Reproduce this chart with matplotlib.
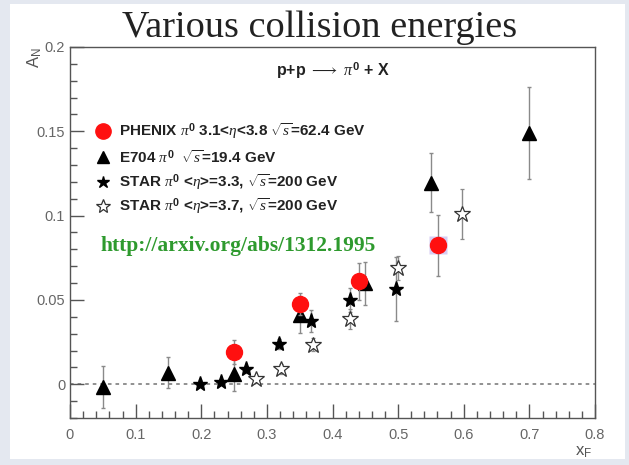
import matplotlib
matplotlib.use("Agg")
import matplotlib.pyplot as plt
from matplotlib.ticker import MultipleLocator, FixedLocator
from matplotlib.patches import Rectangle

plt.rcParams['font.family'] = ['Liberation Sans', 'DejaVu Sans']
plt.rcParams['mathtext.fontset'] = 'custom'
plt.rcParams['mathtext.rm'] = 'Liberation Sans:bold'
plt.rcParams['mathtext.bf'] = 'Liberation Sans:bold'
plt.rcParams['mathtext.it'] = 'Liberation Serif:italic'
plt.rcParams['mathtext.sf'] = 'Liberation Sans'

# ---- data ----
phenix_x = [0.25, 0.35, 0.44, 0.56]
phenix_y = [0.019, 0.0476, 0.061, 0.0824]
phenix_err = [0.0072, 0.0067, 0.011, 0.018]

e704_x = [0.05, 0.15, 0.25, 0.35, 0.45, 0.55, 0.70]
e704_y = [-0.0016, 0.0069, 0.0059, 0.0412, 0.0598, 0.1196, 0.149]
e704_err = [0.0125, 0.009, 0.0100, 0.011, 0.0125, 0.0175, 0.0275]

star33_x = [0.198, 0.230, 0.268, 0.318, 0.367, 0.427, 0.497]
star33_y = [0.0004, 0.0014, 0.0088, 0.0239, 0.0376, 0.050, 0.0563]
star33_err = [0.002, 0.002, 0.002, 0.003, 0.0065, 0.007, 0.019]

star37_x = [0.284, 0.322, 0.371, 0.427, 0.500, 0.597]
star37_y = [0.0029, 0.0092, 0.0235, 0.0386, 0.069, 0.101]
star37_err = [0.002, 0.003, 0.004, 0.006, 0.007, 0.0147]

x_ticks = [0, 0.1, 0.2, 0.3, 0.4, 0.5, 0.6, 0.7, 0.8]
x_tick_labels = ['0', '0.1', '0.2', '0.3', '0.4', '0.5', '0.6', '0.7', '0.8']
y_ticks = [0, 0.05, 0.1, 0.15, 0.2]
y_tick_labels = ['0', '0.05', '0.1', '0.15', '0.2']

legend_labels = [
    r'PHENIX $\pi^{0}$ 3.1<$\eta$<3.8 $\sqrt{s}$=62.4 GeV',
    r'E704 $\pi^{0}$  $\sqrt{s}$=19.4 GeV',
    r'STAR $\pi^{0}$ <$\eta$>=3.3, $\sqrt{s}$=200 GeV',
    r'STAR $\pi^{0}$ <$\eta$>=3.7, $\sqrt{s}$=200 GeV',
]
legend_rows_y = [0.150, 0.1347, 0.120, 0.1059]
title = 'Various collision energies'
reaction = r'p+p $\longrightarrow$ $\pi^{0}$ + X'
url = 'http://arxiv.org/abs/1312.1995'

W, H = 629, 465
fig = plt.figure(figsize=(W / 100, H / 100), dpi=100)
fig.patch.set_facecolor('#e4e8f0')
fig.add_artist(Rectangle((10 / W, 6 / H), 615 / W, 455 / H, transform=fig.transFigure,
                         facecolor='white', edgecolor='none', zorder=-10))

ax = fig.add_axes([70 / W, (H - 418) / H, 525 / W, 371 / H])
ax.set_xlim(0, 0.8)
ax.set_ylim(-0.02, 0.2)

ax.axhline(0, color='#888888', lw=1.3, ls=(0, (2, 2.2)), zorder=1)

ecol = '#8a8a8a'
red_style = dict(marker='o', ms=11.5, color='#ff1010', mec='#ff1010')
tri_style = dict(marker='^', ms=10.5, color='black')
fstar_style = dict(marker='*', ms=11, color='black')
ostar_style = dict(marker='*', ms=12, mfc='white', mec='#333333', mew=0.9)

ax.plot([phenix_x[-1]], [phenix_y[-1]], 's', ms=13, color='#d6cdf2', mec='none', zorder=2)
ax.errorbar(phenix_x, phenix_y, yerr=phenix_err, ls='none', ecolor=ecol, elinewidth=1,
            capsize=1.5, zorder=4, **red_style)
ax.errorbar(e704_x, e704_y, yerr=e704_err, ls='none', ecolor=ecol, elinewidth=1,
            capsize=1.5, zorder=3, **tri_style)
ax.errorbar(star33_x, star33_y, yerr=star33_err, ls='none', ecolor=ecol, elinewidth=1,
            capsize=1.5, zorder=3, **fstar_style)
ax.errorbar(star37_x, star37_y, yerr=star37_err, ls='none', ecolor=ecol, elinewidth=1,
            capsize=1.5, zorder=3, **ostar_style)

# spines / ticks
for s in ax.spines.values():
    s.set_color('#555555')
    s.set_linewidth(1.0)
ax.xaxis.set_major_locator(FixedLocator(x_ticks))
ax.xaxis.set_minor_locator(MultipleLocator(0.02))
ax.yaxis.set_major_locator(FixedLocator(y_ticks))
ax.yaxis.set_minor_locator(MultipleLocator(0.01))
ax.set_xticklabels(x_tick_labels)
ax.set_yticklabels(y_tick_labels)
ax.tick_params(which='both', direction='in', colors='#555555', labelcolor='#666666',
               top=False, right=False, labelsize=10.5)
ax.tick_params(which='major', length=10, width=1)
ax.tick_params(which='minor', length=5, width=1)
ax.tick_params(axis='x', pad=7)

# axis titles
fig.text(584 / W, 1 - 452 / H, r'x$_{\mathsf{F}}$', ha='center', va='center', fontsize=12, color='#555555')
fig.text(35 / W, 1 - 58 / H, r'A$_{\mathsf{N}}$', ha='center', va='center', fontsize=12,
         color='#555555', rotation=90)

# title
fig.text(320 / W, 1 - 28 / H, title, ha='center', va='center', fontsize=27.5,
         family='Liberation Serif', color='#222222')

# reaction text
ax.text(0.40, 0.186, reaction, ha='center', va='center', fontsize=11.5, fontweight='bold',
        color='#222222')

# legend (manual, ROOT style)
leg_styles = [
    dict(marker='o', ms=11, color='#ff1010'),
    dict(marker='^', ms=9, color='black'),
    dict(marker='*', ms=9, color='black'),
    dict(marker='*', ms=10, mfc='white', mec='#333333', mew=0.9),
]
for yy, lab, st in zip(legend_rows_y, legend_labels, leg_styles):
    ax.plot([0.0503], [yy], ls='none', zorder=5, **st)
    ax.text(0.075, yy, lab, ha='left', va='center', fontsize=11, fontweight='bold',
            color='#222222')

ax.text(0.046, 0.0818, url, ha='left', va='center', fontsize=15.5, fontweight='bold',
        family='Liberation Serif', color='#2e9a2e')

fig.savefig('out.png', dpi=100, facecolor=fig.get_facecolor())
